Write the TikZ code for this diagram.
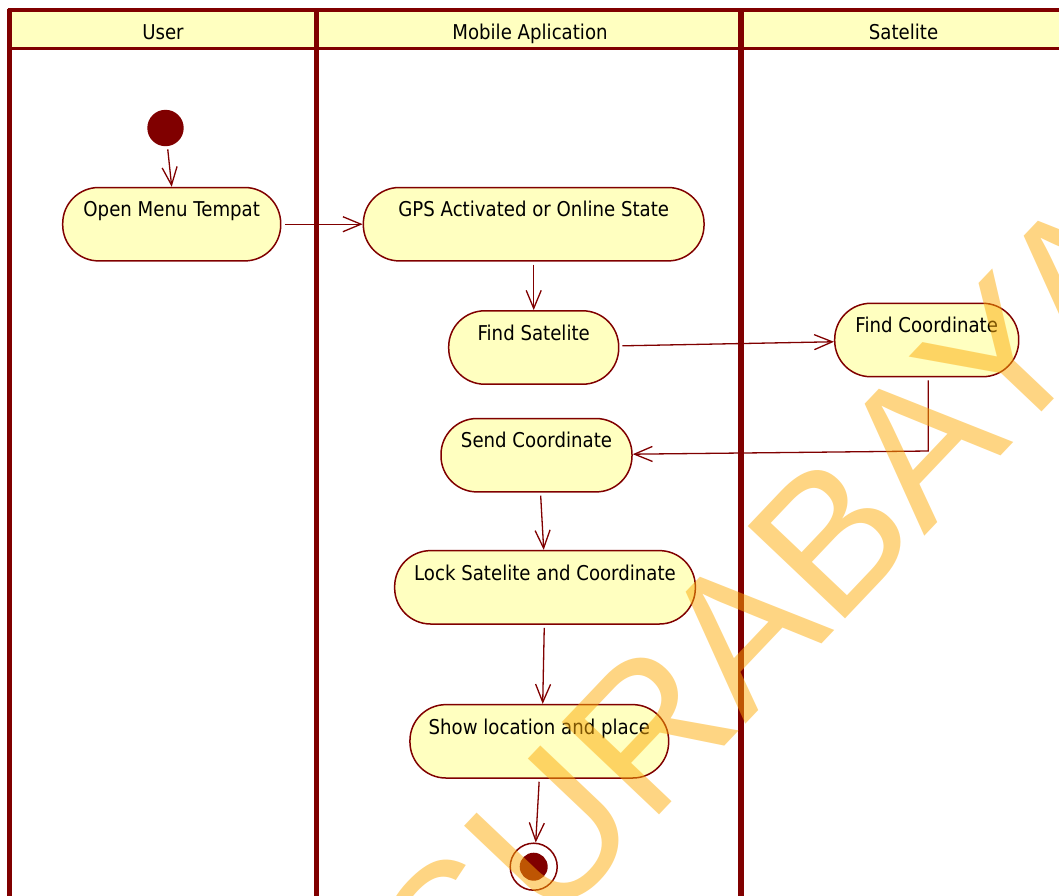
\documentclass[tikz,border=0pt]{standalone}
\usepackage{fontspec}
\setmainfont{DejaVu Sans}
\newfontfamily\actfont{DejaVu Sans}[FakeStretch=0.89]
\newfontfamily\wmfont{Liberation Sans}
\usetikzlibrary{arrows.meta}
\definecolor{lane}{HTML}{800000}
\definecolor{actfill}{HTML}{FFFFC0}
\definecolor{wm}{HTML}{FDAB07}

\begin{document}
\begin{tikzpicture}[x=1pt, y=-1pt,
  lbl/.style={font={\actfont\fontsize{20.4}{22}\selectfont}, text=black},
  act/.style={lbl, draw=lane, line width=1.5pt, fill=actfill,
    rounded corners=36pt, inner xsep=0pt, inner ysep=0pt,
    text height=29.4pt, text depth=44pt},
  flow/.style={draw=lane, line width=1.3pt,
    -{Straight Barb[length=18pt,width=15pt]}, shorten <=3pt},
  border/.style={draw=lane, line width=#1},
]
\useasboundingbox (0,0) rectangle (1059,895);
\clip (0,0) rectangle (1059,895);

% swimlane frame and header band
\fill[actfill] (9.5,10) rectangle (1075,48.3);
\draw[border=3.5pt] (7.5,10) -- (1075,10);
\draw[border=3.5pt] (9.5,48.3) -- (1075,48.3);
\draw[border=4.3pt] (9.5,8.5) -- (9.5,900);
\draw[border=5.3pt] (316.7,8.5) -- (316.7,900);
\draw[border=5.5pt] (741.2,8.5) -- (741.2,900);

\node[lbl, anchor=base] (hUser) at (163,39) {User};
\node[lbl, anchor=base] (hApp) at (530,39) {Mobile Aplication};
\node[lbl, anchor=base] (hSat) at (903.5,39) {Satelite};

% activities
\node[circle, fill=lane, minimum size=36.4pt, inner sep=0pt] (init) at (165.5,128) {};
\node[act, minimum width=218pt] (omt) at (171.7,224.2) {Open Menu Tempat};
\node[act, minimum width=340.7pt] (gps) at (533.7,224.2) {GPS Activated or Online State};
\node[act, minimum width=170pt] (fs) at (533.7,347.5) {Find Satelite};
\node[act, minimum width=184pt] (fc) at (926.7,340) {Find Coordinate};
\node[act, minimum width=191pt] (sc) at (536.5,455.2) {Send Coordinate};
\node[act, minimum width=300.7pt] (lock) at (545,587.3) {Lock Satelite and Coordinate};
\node[act, minimum width=258.7pt] (show) at (539.3,741.3) {Show location and place};
\node[circle, draw=lane, line width=1.5pt, fill=white, minimum size=47pt, inner sep=0pt,
  path picture={\fill[lane] (path picture bounding box.center) circle (14pt);}]
  (final) at (533.7,866.7) {};

% control flow
\coordinate (fcbend) at (928.3,451);
\draw[flow] (init) -- (omt.north);
\draw[flow, shorten <=3.5pt] (omt) -- (gps);
\draw[flow] (gps.south) -- (fs.north);
\draw[flow] (fs) -- (fc);
\draw[flow] ([xshift=1.6pt]fc.south) -- (fcbend) -- (sc);
\draw[flow] ([xshift=4pt]sc.south) -- ([xshift=-1.3pt]lock.north);
\draw[flow] ([xshift=-0.7pt]lock.south) -- ([xshift=3.4pt]show.north);
\draw[flow] (show.south) -- ([xshift=2pt]final.north);

% watermark
\node[rotate=46.5, anchor=base west, inner sep=0pt, text=wm, text opacity=0.5,
  font={\wmfont\fontsize{195}{195}\selectfont}] (mark) at (461.6,1023.5) {SURABAYA};
\end{tikzpicture}
\end{document}
